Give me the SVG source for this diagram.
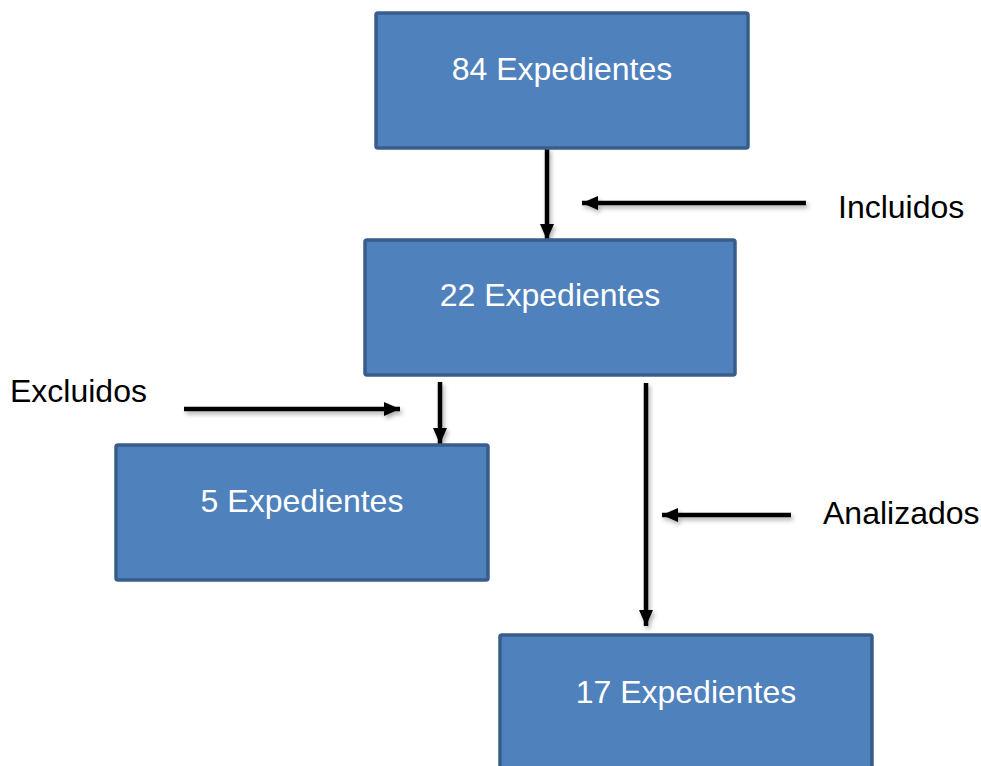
<svg xmlns="http://www.w3.org/2000/svg" width="981" height="766" viewBox="0 0 981 766">
<style>
.box{fill:#4F81BD;stroke:#385D8A;stroke-width:3.5}
.bt{font-family:"Liberation Sans",Arial,sans-serif;font-size:32px;fill:#FFFFFF;text-anchor:middle}
.lbl{font-family:"Liberation Sans",Arial,sans-serif;font-size:32px;fill:#000000}
.arr{stroke:#000;stroke-width:4.5;fill:none;marker-end:url(#ah)}
</style>
<defs>
<marker id="ah" markerUnits="userSpaceOnUse" markerWidth="18" markerHeight="18" viewBox="0 0 18 18" refX="16" refY="9" orient="auto">
<path d="M0,2 L16,9 L0,16 Z" fill="#000"/>
</marker>
<filter id="sh" filterUnits="userSpaceOnUse" x="0" y="0" width="981" height="766">
<feDropShadow dx="2" dy="3" stdDeviation="2" flood-color="#000" flood-opacity="0.3"/>
</filter>
</defs>
<g id="connectors" filter="url(#sh)">
<line class="arr" x1="547" y1="148" x2="547" y2="240"/>
<line class="arr" x1="806" y1="203" x2="582" y2="203"/>
<line class="arr" x1="184" y1="409" x2="400" y2="409"/>
<line class="arr" x1="440" y1="382" x2="440" y2="444"/>
<line class="arr" x1="646" y1="383" x2="646" y2="626"/>
<line class="arr" x1="791" y1="515" x2="662" y2="515"/>
</g>
<g id="n84">
<rect class="box" x="376" y="13" width="372" height="135" rx="2"/>
<text class="bt" x="562" y="80">84 Expedientes</text>
</g>
<g id="n22">
<rect class="box" x="365" y="240" width="370" height="135" rx="2"/>
<text class="bt" x="550" y="306">22 Expedientes</text>
</g>
<g id="n5">
<rect class="box" x="116" y="445" width="372" height="135" rx="2"/>
<text class="bt" x="302" y="512">5 Expedientes</text>
</g>
<g id="n17">
<rect class="box" x="500" y="635" width="372" height="140" rx="2"/>
<text class="bt" x="686" y="703">17 Expedientes</text>
</g>
<g id="labels">
<text class="lbl" x="838" y="218">Incluidos</text>
<text class="lbl" x="10" y="402">Excluidos</text>
<text class="lbl" x="823" y="524">Analizados</text>
</g>
</svg>
